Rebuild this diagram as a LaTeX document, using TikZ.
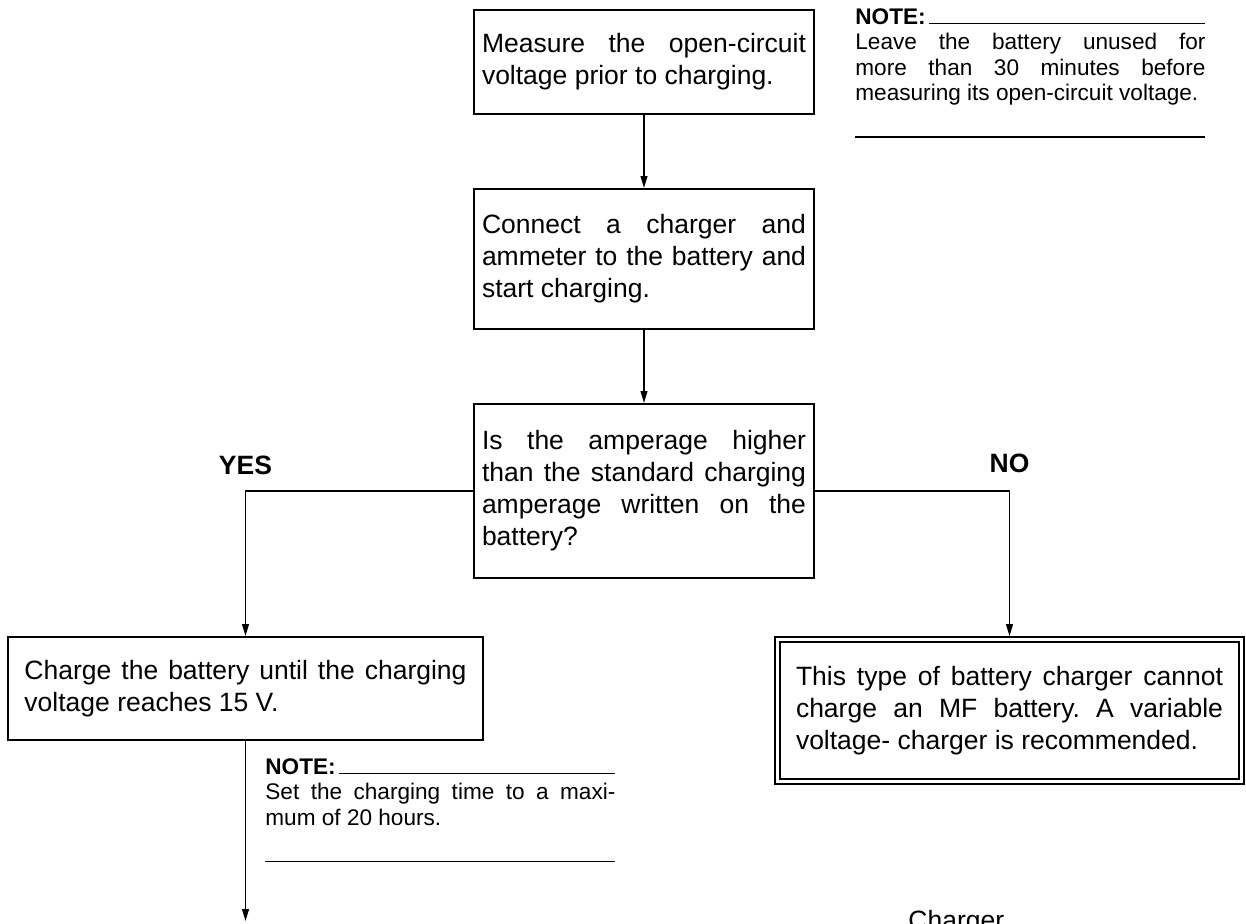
\documentclass[tikz,border=0pt]{standalone}
\usepackage{fontspec}
\setmainfont{Liberation Sans}
\usepackage{tikz}
\usetikzlibrary{arrows.meta}

\setlength{\parindent}{0pt}
\frenchspacing
\hyphenpenalty=10000
\exhyphenpenalty=10000
\tolerance=10000
\hbadness=10000

\newcommand{\boxsize}{\fontsize{13.25pt}{16pt}\selectfont}
\newcommand{\notesize}{\fontsize{11.3pt}{12.75pt}\selectfont}
\newcommand{\notehead}{\textbf{NOTE:}\,\leaders\hrule height 0.8pt\hfill\kern0pt\par}
\newcommand{\notefoot}{\strut\par\vspace{14pt}\hrule height 0.8pt}

\begin{document}
\begin{tikzpicture}[
  x=0.5pt, y=-0.5pt,
  box/.style={draw, line width=0.8pt, anchor=north, align=justify, text width=162pt, minimum width=170pt, inner xsep=4pt, font=\boxsize},
  note/.style={anchor=north west, align=justify, text width=175pt, inner sep=0pt, font=\notesize},
  answer/.style={inner sep=0pt, font=\boxsize\bfseries},
  arr/.style={line width=0.8pt, -{Triangle[length=6pt, width=3.4pt]}}
]
\useasboundingbox (0,0) rectangle (1246,923);

\node[box, minimum height=52pt] (measure) at (644,9)
  {Measure the open-circuit\linebreak voltage prior to charging.\par\vspace{10pt}};
\node[box, minimum height=70pt] (connect) at (644,188)
  {Connect a charger and\linebreak ammeter to the battery and\linebreak start charging.};
\node[box, minimum height=87pt] (amperage) at (644,403)
  {Is the amperage higher\linebreak than the standard charging\linebreak amperage written on the\linebreak battery?};

\node[box, text width=221pt, minimum width=237.5pt, minimum height=51.5pt] (charge) at (245.5,636)
  {Charge the battery until the charging\linebreak voltage reaches 15 V.};
\node[box, anchor=center, double, double distance=1.7pt, text width=213.5pt, minimum width=232pt, minimum height=71pt] (cannot) at (1009.5,710.5)
  {This type of battery charger cannot\linebreak charge an MF battery. A variable\linebreak voltage- charger is recommended.};

\node[note] (restnote) at (855,8)
  {\notehead Leave the battery unused for\linebreak more than 30 minutes before\linebreak measuring its open-circuit voltage.\notefoot};
\node[note] (timenote) at (265,758)
  {\notehead Set the charging time to a maxi-\linebreak mum of 20 hours.\notefoot};

\node[anchor=base west, inner sep=0pt, font=\boxsize] (charger) at (908,929) {Charger};
\coordinate (tail) at (245.5,921);

\draw[arr] (measure) -- (connect);
\draw[arr] (connect) -- (amperage);
\draw[arr] (amperage.west) -| node[answer, above=7.5pt, pos=.5] {YES} (charge.north);
\draw[arr, shorten >=1.25pt] (amperage.east) -| node[answer, above=8.5pt, pos=.5] {NO} (cannot.north);
\draw[arr] (charge) -- (tail);
\end{tikzpicture}
\end{document}
